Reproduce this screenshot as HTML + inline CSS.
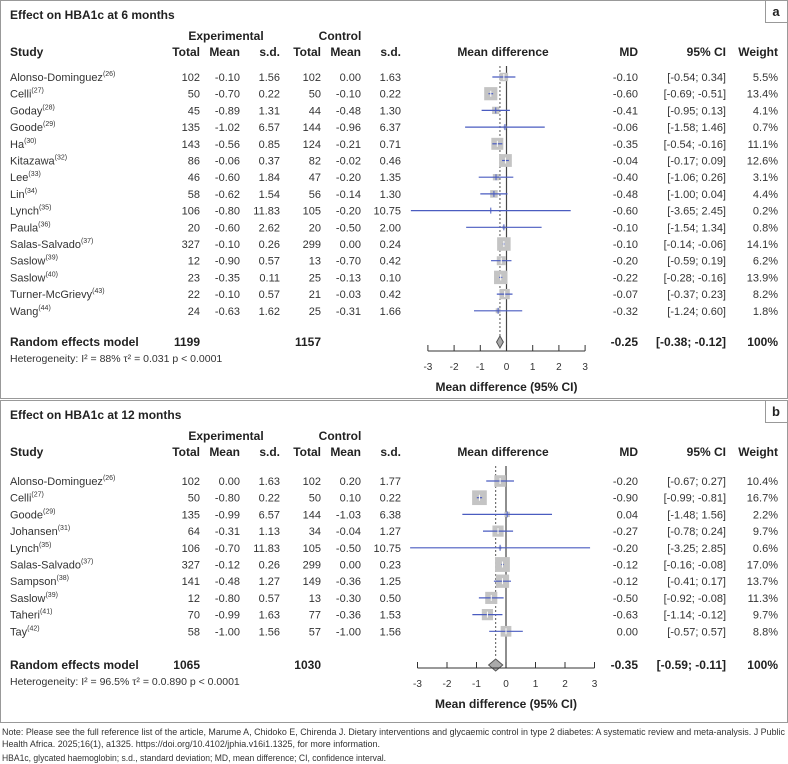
<!DOCTYPE html>
<html><head><meta charset="utf-8"><style>
html,body{margin:0;padding:0;background:#fff;}
svg{display:block;font-family:"Liberation Sans",sans-serif;}
</style></head><body>
<svg id="s" width="788" height="764" viewBox="0 0 788 764"></svg>
<script>
const studiesA=["Alonso-Dominguez","Celli","Goday","Goode","Ha","Kitazawa","Lee","Lin","Lynch","Paula","Salas-Salvado","Saslow","Saslow","Turner-McGrievy","Wang"];
const refsA=["26","27","28","29","30","32","33","34","35","36","37","39","40","43","44"];
const eTotA=[102,50,45,135,143,86,46,58,106,20,327,12,23,22,24];
const eMeanA=["-0.10","-0.70","-0.89","-1.02","-0.56","-0.06","-0.60","-0.62","-0.80","-0.60","-0.10","-0.90","-0.35","-0.10","-0.63"];
const eSdA=["1.56","0.22","1.31","6.57","0.85","0.37","1.84","1.54","11.83","2.62","0.26","0.57","0.11","0.57","1.62"];
const cTotA=[102,50,44,144,124,82,47,56,105,20,299,13,25,21,25];
const cMeanA=["0.00","-0.10","-0.48","-0.96","-0.21","-0.02","-0.20","-0.14","-0.20","-0.50","0.00","-0.70","-0.13","-0.03","-0.31"];
const cSdA=["1.63","0.22","1.30","6.37","0.71","0.46","1.35","1.30","10.75","2.00","0.24","0.42","0.10","0.42","1.66"];
const mdA=[-0.10,-0.60,-0.41,-0.06,-0.35,-0.04,-0.40,-0.48,-0.60,-0.10,-0.10,-0.20,-0.22,-0.07,-0.32];
const loA=[-0.54,-0.69,-0.95,-1.58,-0.54,-0.17,-1.06,-1.00,-3.65,-1.54,-0.14,-0.59,-0.28,-0.37,-1.24];
const hiA=[0.34,-0.51,0.13,1.46,-0.16,0.09,0.26,0.04,2.45,1.34,-0.06,0.19,-0.16,0.23,0.60];
const wA=[5.5,13.4,4.1,0.7,11.1,12.6,3.1,4.4,0.2,0.8,14.1,6.2,13.9,8.2,1.8];
const poolA=[-0.25,-0.38,-0.12];

const studiesB=["Alonso-Dominguez","Celli","Goode","Johansen","Lynch","Salas-Salvado","Sampson","Saslow","Taheri","Tay"];
const refsB=["26","27","29","31","35","37","38","39","41","42"];
const eTotB=[102,50,135,64,106,327,141,12,70,58];
const eMeanB=["0.00","-0.80","-0.99","-0.31","-0.70","-0.12","-0.48","-0.80","-0.99","-1.00"];
const eSdB=["1.63","0.22","6.57","1.13","11.83","0.26","1.27","0.57","1.63","1.56"];
const cTotB=[102,50,144,34,105,299,149,13,77,57];
const cMeanB=["0.20","0.10","-1.03","-0.04","-0.50","0.00","-0.36","-0.30","-0.36","-1.00"];
const cSdB=["1.77","0.22","6.38","1.27","10.75","0.23","1.25","0.50","1.53","1.56"];
const mdB=[-0.20,-0.90,0.04,-0.27,-0.20,-0.12,-0.12,-0.50,-0.63,0.00];
const loB=[-0.67,-0.99,-1.48,-0.78,-3.25,-0.16,-0.41,-0.92,-1.14,-0.57];
const hiB=[0.27,-0.81,1.56,0.24,2.85,-0.08,0.17,-0.08,-0.12,0.57];
const wB=[10.4,16.7,2.2,9.7,0.6,17.0,13.7,11.3,9.7,8.8];
const poolB=[-0.35,-0.59,-0.11];
const ticks=[-3,-2,-1,0,1,2,3];

const NS="http://www.w3.org/2000/svg";
const svg=document.getElementById('s');
function el(tag,attrs,parent){const e=document.createElementNS(NS,tag);for(const k in attrs)e.setAttribute(k,attrs[k]);(parent||svg).appendChild(e);return e;}
function txt(x,y,s,opt,parent){opt=opt||{};const t=el('text',{x:x,y:y,'font-size':opt.size||11,'text-anchor':opt.anchor||'start','font-weight':opt.bold?'bold':'normal',fill:opt.bold?'#222':'#333'},parent);t.textContent=s;return t;}
const f2=v=>v.toFixed(2);

function panel(cfg){
  const g=el('g',{});
  
  
  const box=el('rect',{x:0.5,y:cfg.top+0.5,width:787,height:cfg.h,fill:'none',stroke:'#999'},g);
  
  
  const t=txt(10,cfg.top+19,cfg.title,{bold:true,size:12},g);
  
  
  const T=cfg.top;
  const h1=txt(226,T+40,'Experimental',{bold:true,anchor:'middle',size:12},g);
  
  const h2=txt(340,T+40,'Control',{bold:true,anchor:'middle',size:12},g);
  
  const hy=T+56;
  [['Study',10,'start'],['Total',200,'end'],['Mean',240,'end'],['s.d.',280,'end'],['Total',321,'end'],['Mean',361,'end'],['s.d.',401,'end'],['Mean difference',503,'middle'],['MD',638,'end'],['95% CI',726,'end'],['Weight',778,'end']].forEach(h=>{
    const e=txt(h[1],hy,h[0],{bold:true,anchor:h[2],size:12},g);
    
    
  });
  const x0=cfg.zeroX, sc=cfg.scale;
  const X=v=>x0+v*sc;
  const n=cfg.studies.length;
  const Y=i=>T+cfg.firstRow+i*16.7;
  const axisY=cfg.axisY;
  const zl=el('line',{x1:X(0),x2:X(0),y1:T+66,y2:axisY,stroke:'#444','stroke-width':1.2},g);
  
  const pl=el('line',{x1:X(cfg.pool[0]),x2:X(cfg.pool[0]),y1:T+66,y2:axisY-12,stroke:'#555','stroke-dasharray':'2,2'},g);
  
  for(let i=0;i<n;i++){
    const y=Y(i);
    const rg=el('g',{},g);
    
    
    const st=txt(10,y+4,cfg.studies[i],{},rg);
    const sp=el('tspan',{dy:-5,'font-size':7},st);sp.textContent='('+cfg.refs[i]+')';
    txt(200,y+4,String(cfg.eTot[i]),{anchor:'end'},rg);
    txt(240,y+4,cfg.eMean[i],{anchor:'end'},rg);
    txt(280,y+4,cfg.eSd[i],{anchor:'end'},rg);
    txt(321,y+4,String(cfg.cTot[i]),{anchor:'end'},rg);
    txt(361,y+4,cfg.cMean[i],{anchor:'end'},rg);
    txt(401,y+4,cfg.cSd[i],{anchor:'end'},rg);
    txt(638,y+4,f2(cfg.md[i]),{anchor:'end'},rg);
    txt(726,y+4,'['+f2(cfg.lo[i])+'; '+f2(cfg.hi[i])+']',{anchor:'end'},rg);
    txt(778,y+4,cfg.w[i].toFixed(1)+'%',{anchor:'end'},rg);
    const s=3.6*Math.sqrt(cfg.w[i]);
    const sq=el('rect',{x:X(cfg.md[i])-s/2,y:y-s/2,width:s,height:s,fill:'#c4c4c4'},rg);
    
    const ci=el('line',{x1:X(cfg.lo[i]),x2:X(cfg.hi[i]),y1:y,y2:y,stroke:'#4a5cc0','stroke-width':1.2},rg);
    
    el('line',{x1:X(cfg.md[i]),x2:X(cfg.md[i]),y1:y-3,y2:y+3,stroke:s>8?'#fff':'#4a5cc0','stroke-width':1},rg);
  }
  const ry=cfg.poolY;
  const r1=txt(10,ry+4,'Random effects model',{bold:true,size:12},g);
  
  txt(200,ry+4,String(cfg.eTot.reduce((a,b)=>a+b,0)),{bold:true,anchor:'end',size:12},g);
  txt(321,ry+4,String(cfg.cTot.reduce((a,b)=>a+b,0)),{bold:true,anchor:'end',size:12},g);
  txt(638,ry+4,f2(cfg.pool[0]),{bold:true,anchor:'end',size:12},g);
  txt(726,ry+4,'['+f2(cfg.pool[1])+'; '+f2(cfg.pool[2])+']',{bold:true,anchor:'end',size:12},g);
  txt(778,ry+4,'100%',{bold:true,anchor:'end',size:12},g);
  const dm=el('polygon',{points:`${X(cfg.pool[1])},${ry} ${X(cfg.pool[0])},${ry-6} ${X(cfg.pool[2])},${ry} ${X(cfg.pool[0])},${ry+6}`,fill:'#aaa',stroke:'#555'},g);
  
  const het=txt(10,ry+20,cfg.het,{size:10.5},g);
  
  const ax=el('line',{x1:X(-3),x2:X(3),y1:axisY,y2:axisY,stroke:'#333'},g);
  
  ticks.forEach(v=>{
    el('line',{x1:X(v),x2:X(v),y1:axisY,y2:axisY-6,stroke:'#333'},g);
    const tl=txt(X(v),axisY+19,String(v),{anchor:'middle',size:10},g);
    
  });
  const at=txt(X(0),axisY+40,'Mean difference (95% CI)',{bold:true,anchor:'middle',size:12},g);
  
  const lb=el('rect',{x:765.5,y:T+0.5,width:22,height:22,fill:'#fff',stroke:'#999'},g);
  
  const lt=txt(776,T+16,cfg.label,{bold:true,anchor:'middle',size:13},g);
  
}
panel({name:'panel-a-6-months',top:0,h:398,title:'Effect on HBA1c at 6 months',label:'a',studies:studiesA,refs:refsA,eTot:eTotA,eMean:eMeanA,eSd:eSdA,cTot:cTotA,cMean:cMeanA,cSd:cSdA,md:mdA,lo:loA,hi:hiA,w:wA,pool:poolA,zeroX:506.5,scale:26.2,firstRow:77,poolY:342,axisY:351,het:'Heterogeneity: I² = 88% τ² = 0.031 p < 0.0001'});
panel({name:'panel-b-12-months',top:400,h:322,title:'Effect on HBA1c at 12 months',label:'b',studies:studiesB,refs:refsB,eTot:eTotB,eMean:eMeanB,eSd:eSdB,cTot:cTotB,cMean:cMeanB,cSd:cSdB,md:mdB,lo:loB,hi:hiB,w:wB,pool:poolB,zeroX:506,scale:29.5,firstRow:81,poolY:665,axisY:668,het:'Heterogeneity: I² = 96.5% τ² = 0.0.890 p < 0.0001'});
const n1=txt(2,735,'Note: Please see the full reference list of the article, Marume A, Chidoko E, Chirenda J. Dietary interventions and glycaemic control in type 2 diabetes: A systematic review and meta-analysis. J Public',{size:9});
n1.setAttribute('textLength','783');n1.setAttribute('lengthAdjust','spacingAndGlyphs');

const n2=txt(2,747,'Health Africa. 2025;16(1), a1325. https://doi.org/10.4102/jphia.v16i1.1325, for more information.',{size:9});
n2.setAttribute('textLength','378');n2.setAttribute('lengthAdjust','spacingAndGlyphs');

const n3=txt(2,761,'HBA1c, glycated haemoglobin; s.d., standard deviation; MD, mean difference; CI, confidence interval.',{size:9});
n3.setAttribute('textLength','384');n3.setAttribute('lengthAdjust','spacingAndGlyphs');

</script>
</body></html>
